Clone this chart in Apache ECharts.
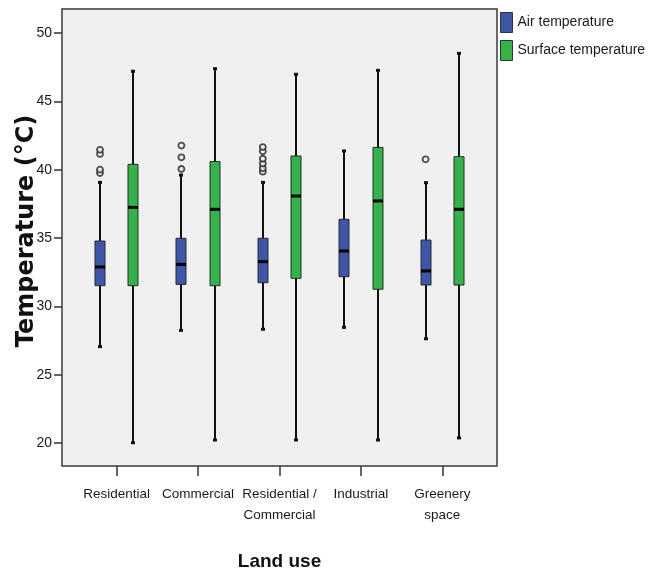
<!DOCTYPE html>
<html>
<head>
<meta charset="utf-8">
<script src="https://cdn.jsdelivr.net/npm/echarts@6/dist/echarts.min.js"></script>
<style>
html,body{margin:0;padding:0;background:#fff;}
#chart{width:662px;height:575px;}
</style>
</head>
<body>
<div id="chart"></div>
<script>
// ---- data ----
const categories = ['Residential', 'Commercial', 'Residential /\nCommercial', 'Industrial', 'Greenery\nspace'];
const yTicks = [20, 25, 30, 35, 40, 45, 50];

const airMin    = [27.05, 28.24, 28.32, 28.46, 27.63];
const airQ1     = [31.51, 31.61, 31.73, 32.17, 31.56];
const airMedian = [32.88, 33.07, 33.27, 34.05, 32.59];
const airQ3     = [34.78, 34.98, 34.98, 36.37, 34.85];
const airMax    = [39.07, 39.61, 39.07, 41.37, 39.05];

const surfMin    = [20.02, 20.22, 20.22, 20.22, 20.37];
const surfQ1     = [31.51, 31.51, 32.05, 31.25, 31.56];
const surfMedian = [37.24, 37.10, 38.07, 37.71, 37.10];
const surfQ3     = [40.39, 40.59, 41.00, 41.63, 40.95];
const surfMax    = [47.20, 47.39, 46.98, 47.27, 48.51];

const airOutlierCat = [0, 0, 0, 0, 1, 1, 1, 2, 2, 2, 2, 2, 2, 4];
const airOutlierVal = [39.75, 40.0, 41.15, 41.45, 40.05, 40.9, 41.76, 39.85, 40.1, 40.45, 40.8, 41.35, 41.65, 40.76];

// ---- build ----
function boxData(mins, q1s, meds, q3s, maxs) {
  return categories.map((c, i) => [i, mins[i], q1s[i], meds[i], q3s[i], maxs[i]]);
}
const airData = boxData(airMin, airQ1, airMedian, airQ3, airMax);
const surfData = boxData(surfMin, surfQ1, surfMedian, surfQ3, surfMax);
const airOutliers = airOutlierCat.map((c, i) => [c, airOutlierVal[i]]);

const BOX_W = 10;
const AIR_OFF = -16.7;
const SURF_OFF = 16.6;

function makeRender(offset) {
  return function (params, api) {
    const c = api.value(0);
    const pMin = api.coord([c, api.value(1)]);
    const pQ1 = api.coord([c, api.value(2)]);
    const pMed = api.coord([c, api.value(3)]);
    const pQ3 = api.coord([c, api.value(4)]);
    const pMax = api.coord([c, api.value(5)]);
    const x = Math.round(pMin[0] + offset);
    const hw = BOX_W / 2;
    const color = api.visual('color');
    return {
      type: 'group',
      children: [
        { type: 'line', shape: { x1: x, y1: pMax[1], x2: x, y2: pMin[1] }, style: { stroke: '#111', lineWidth: 2 } },
        { type: 'rect', shape: { x: x - hw, y: pQ3[1], width: BOX_W, height: pQ1[1] - pQ3[1] }, style: { fill: color, stroke: '#2a2a2a', lineWidth: 1 } },
        { type: 'line', shape: { x1: x - hw, y1: pMed[1], x2: x + hw, y2: pMed[1] }, style: { stroke: '#000', lineWidth: 3 } },
        { type: 'rect', shape: { x: x - 2, y: pMax[1] - 1.5, width: 4, height: 3 }, style: { fill: '#111' } },
        { type: 'rect', shape: { x: x - 2, y: pMin[1] - 1.5, width: 4, height: 3 }, style: { fill: '#111' } }
      ]
    };
  };
}

const chart = echarts.init(document.getElementById('chart'), null, { renderer: 'canvas' });
chart.setOption({
  animation: false,
  backgroundColor: '#ffffff',
  graphic: [{
    type: 'rect',
    z: -10,
    shape: { x: 62, y: 9, width: 435, height: 457 },
    style: { fill: '#f0f0f0', stroke: '#3a3a3a', lineWidth: 1.5 }
  }],
  legend: {
    orient: 'vertical',
    left: 500,
    top: 12,
    padding: 0,
    itemWidth: 12,
    itemHeight: 20,
    itemGap: 7,
    itemStyle: { borderColor: '#333', borderWidth: 1 },
    textStyle: { fontFamily: 'Liberation Sans', fontSize: 14, color: '#1a1a1a', padding: [0, 0, 0, 0] },
    data: [
      { name: 'Air temperature', icon: 'rect' },
      { name: 'Surface temperature', icon: 'rect' }
    ]
  },
  grid: { left: 76, right: 179, top: 33, bottom: 132, containLabel: false, outerBoundsMode: 'none' },
  xAxis: {
    type: 'category',
    data: categories,
    offset: 23,
    axisLine: { show: false },
    axisTick: { show: true, alignWithLabel: true, length: 10, lineStyle: { color: '#333', width: 1.5 } },
    axisLabel: { fontFamily: 'Liberation Sans', fontSize: 13.5, color: '#1a1a1a', margin: 18, lineHeight: 21, interval: 0 },
    name: 'Land use',
    nameLocation: 'middle',
    nameGap: 86,
    nameMoveOverlap: false,
    nameTextStyle: { fontFamily: 'Liberation Sans', fontWeight: 'bold', fontSize: 19, color: '#111' }
  },
  yAxis: {
    type: 'value',
    min: 20,
    max: 50,
    interval: 5,
    offset: 14,
    axisLine: { show: false },
    axisTick: { show: true, length: 8, lineStyle: { color: '#333', width: 1.5 } },
    axisLabel: { fontFamily: 'Liberation Sans', fontSize: 14, color: '#1a1a1a', margin: 10,
      formatter: v => (yTicks.indexOf(v) >= 0 ? String(v) : '') },
    splitLine: { show: false },
    name: 'Temperature (°C)',
    nameLocation: 'middle',
    nameGap: 23,
    nameMoveOverlap: false,
    nameTextStyle: { fontFamily: 'DejaVu Sans', fontWeight: 'bold', fontSize: 24, color: '#111', padding: [0, 0, 0, 14] }
  },
  series: [
    {
      name: 'Air temperature',
      type: 'custom',
      renderItem: makeRender(AIR_OFF),
      itemStyle: { color: '#3d56a9' },
      encode: { x: 0, y: [1, 2, 3, 4, 5] },
      data: airData
    },
    {
      name: 'Surface temperature',
      type: 'custom',
      renderItem: makeRender(SURF_OFF),
      itemStyle: { color: '#33b449' },
      encode: { x: 0, y: [1, 2, 3, 4, 5] },
      data: surfData
    },
    {
      name: 'Air outliers',
      type: 'scatter',
      symbol: 'circle',
      symbolSize: 6,
      symbolOffset: [AIR_OFF, 0],
      itemStyle: { color: '#f4f4f4', borderColor: '#222', borderWidth: 1.8 },
      z: 5,
      data: airOutliers
    }
  ]
});
</script>
</body>
</html>
